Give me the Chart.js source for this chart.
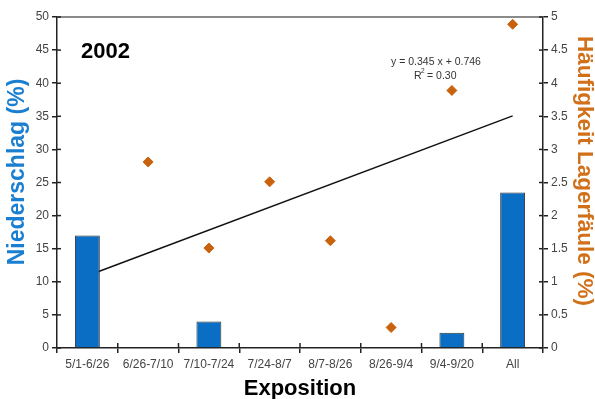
<!DOCTYPE html>
<html>
<head>
<meta charset="utf-8">
<script src="https://cdn.jsdelivr.net/npm/chart.js@4/dist/chart.umd.min.js"></script>
<style>
html,body{margin:0;padding:0;background:#fff;}
#wrap{width:595px;height:399px;position:relative;}
</style>
</head>
<body>
<div id="wrap"><canvas id="c" width="595" height="399"></canvas></div>
<script>
const categories = ['5/1-6/26','6/26-7/10','7/10-7/24','7/24-8/7','8/7-8/26','8/26-9/4','9/4-9/20','All'];
const niederschlag = [17, null, 4, null, null, null, 2.3, 23.5];
const lagerfaeule = [null, 2.81, 1.51, 2.51, 1.62, 0.31, 3.89, 4.89];
const trendline = [1.091, null, null, null, null, null, null, 3.506];
const leftTicks = [0,5,10,15,20,25,30,35,40,45,50];
const rightTicks = [0,0.5,1,1.5,2,2.5,3,3.5,4,4.5,5];

const FONT = "'Liberation Sans', Arial, sans-serif";

const extras = {
  id: 'extras',
  beforeDatasetsDraw(chart) {
    const ctx = chart.ctx, a = chart.chartArea;
    ctx.save();
    ctx.strokeStyle = '#8a8a8a';
    ctx.lineWidth = 2;
    ctx.beginPath(); ctx.moveTo(a.left, a.top); ctx.lineTo(a.right, a.top); ctx.stroke();
    ctx.strokeStyle = '#222';
    ctx.lineWidth = 1.5;
    const y = chart.scales.y, y2 = chart.scales.y2, x = chart.scales.x;
    y.ticks.forEach((t, i) => { const p = y.getPixelForTick(i); ctx.beginPath(); ctx.moveTo(a.left, p); ctx.lineTo(a.left + 4, p); ctx.stroke(); });
    y2.ticks.forEach((t, i) => { const p = y2.getPixelForTick(i); ctx.beginPath(); ctx.moveTo(a.right, p); ctx.lineTo(a.right - 4, p); ctx.stroke(); });
    for (let i = 1; i < categories.length; i++) {
      const p = (x.getPixelForValue(i - 1) + x.getPixelForValue(i)) / 2;
      ctx.beginPath(); ctx.moveTo(p, a.bottom); ctx.lineTo(p, a.bottom - 5); ctx.stroke();
    }
    ctx.restore();
  },
  afterDraw(chart) {
    const ctx = chart.ctx;
    ctx.save();
    ctx.fillStyle = '#000';
    ctx.font = "bold 22px " + FONT;
    ctx.textBaseline = 'alphabetic';
    ctx.textAlign = 'left';
    ctx.fillText('2002', 81, 58);
    ctx.fillStyle = '#333';
    ctx.font = "10.5px " + FONT;
    ctx.textAlign = 'center';
    ctx.fillText('y = 0.345 x + 0.746', 436, 65);
    ctx.textAlign = 'left';
    ctx.fillText('R', 414, 79);
    ctx.fillText('= 0.30', 427, 79);
    ctx.font = "6.5px " + FONT;
    ctx.fillText('2', 421, 73);
    // axis titles
    ctx.textAlign = 'center';
    ctx.textBaseline = 'middle';
    ctx.save();
    ctx.translate(18, 172);
    ctx.rotate(-Math.PI / 2);
    ctx.fillStyle = '#1a7fd0';
    ctx.font = "bold 23px " + FONT;
    ctx.fillText('Niederschlag (%)', 0, 0);
    ctx.restore();
    ctx.save();
    ctx.translate(584, 171);
    ctx.rotate(Math.PI / 2);
    ctx.fillStyle = '#d2701a';
    ctx.font = "bold 22.5px " + FONT;
    ctx.fillText('Häufigkeit Lagerfäule (%)', 0, 0);
    ctx.restore();
    ctx.restore();
  }
};

new Chart(document.getElementById('c'), {
  data: {
    labels: categories,
    datasets: [
      { type: 'line', data: lagerfaeule, yAxisID: 'y2', showLine: false, pointStyle: 'rectRot', pointRadius: 5, pointBackgroundColor: '#c8620c', pointBorderColor: '#c8620c', order: 0 },
      { type: 'bar', data: niederschlag, yAxisID: 'y', backgroundColor: '#0a6fc4', borderColor: '#333', borderWidth: 1, barPercentage: 0.5, categoryPercentage: 0.82, order: 1 },
      { type: 'line', data: trendline, yAxisID: 'y2', spanGaps: true, borderColor: '#111', borderWidth: 1.5, pointRadius: 0, fill: false, order: 2 }
    ]
  },
  options: {
    responsive: false,
    animation: false,
    layout: { padding: { top: 17, left: 0, right: 0, bottom: 0 } },
    plugins: { legend: { display: false }, tooltip: { enabled: false } },
    scales: {
      x: {
        offset: true,
        grid: { offset: true, drawOnChartArea: false, tickLength: 5, color: '#222', lineWidth: 1.5 },
        border: { color: '#222', width: 1.5 },
        ticks: { color: '#444', font: { family: FONT, size: 12 }, padding: 4, maxRotation: 0, autoSkip: false },
        title: { display: true, text: 'Exposition', color: '#000', font: { family: FONT, size: 22, weight: 'bold', lineHeight: 0.9 }, padding: { top: 0, bottom: 0 } },
        afterFit(s) { s.height = 51; }
      },
      y: {
        position: 'left', min: 0, max: 50,
        afterBuildTicks(s) { s.ticks = leftTicks.map(v => ({ value: v })); },
        grid: { drawOnChartArea: false, tickLength: 5, color: '#222', lineWidth: 1.5 },
        border: { color: '#222', width: 1.5 },
        ticks: { color: '#444', font: { family: FONT, size: 12 }, padding: 3, callback: v => String(v) },
        title: { display: false, text: 'Niederschlag (%)' },
        afterFit(s) { s.width = 57; }
      },
      y2: {
        position: 'right', min: 0, max: 5,
        afterBuildTicks(s) { s.ticks = rightTicks.map(v => ({ value: v })); },
        grid: { drawOnChartArea: false, tickLength: 5, color: '#222', lineWidth: 1.5 },
        border: { color: '#222', width: 1.5 },
        ticks: { color: '#444', font: { family: FONT, size: 12 }, padding: 3, callback: v => String(v) },
        title: { display: false, text: 'Häufigkeit Lagerfäule (%)' },
        afterFit(s) { s.width = 52; }
      }
    }
  },
  plugins: [extras]
});
</script>
</body>
</html>
